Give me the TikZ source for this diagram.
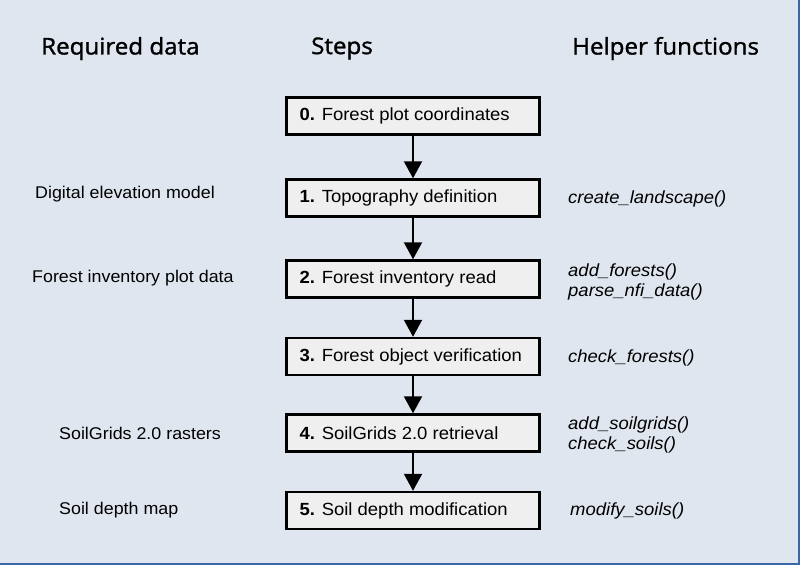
\documentclass[tikz,border=0pt]{standalone}
\usepackage{fontspec}
\setmainfont[FakeStretch=1.05]{Liberation Sans}
\newfontfamily\headfont[FakeStretch=1.05,FakeBold=1.3]{Open Sans}
\usetikzlibrary{arrows.meta}
\definecolor{bgcol}{HTML}{DFE6EF}
\definecolor{edgecol}{HTML}{3A68A6}
\definecolor{boxfill}{HTML}{EFEFEF}
\tikzset{
  stepbox/.style={draw=black, line width=2.4pt, fill=boxfill, minimum width=253pt,
    minimum height=37pt, inner sep=0pt, font=\fontsize{17.6}{20}\selectfont},
  header/.style={font=\headfont\fontsize{23}{26}\selectfont, anchor=west, inner sep=0pt},
  datalabel/.style={font=\fontsize{17}{20}\selectfont, anchor=west, inner sep=0pt},
  helper/.style={font=\itshape\fontsize{17.6}{20.5}\selectfont, anchor=west, inner sep=0pt, align=left},
  flow/.style={line width=2pt, -{Triangle[width=18pt,length=17pt]}}
}
\newcommand{\steptext}[2]{\raisebox{-1pt}{\makebox[227pt][l]{\textbf{#1} #2}}}
\begin{document}
\begin{tikzpicture}[x=1pt,y=-1pt]
  % background and frame
  \fill[bgcol] (0,0) rectangle (800,565);
  \useasboundingbox (0,0) rectangle (800,565);
  \draw[edgecol, line width=2pt] (799,0) -- (799,564) -- (0,564);

  % column headers
  \node[header] (hreq) at (41,48.5) {Required data};
  \node[header] (hsteps) at (311,48.5) {Steps};
  \node[header] (hhelp) at (572,48.5) {Helper functions};

  % workflow steps
  \node[stepbox] (s0) at (413,116) {\steptext{0.}{Forest plot coordinates}};
  \node[stepbox] (s1) at (413,198) {\steptext{1.}{Topography definition}};
  \node[stepbox] (s2) at (413,279) {\steptext{2.}{Forest inventory read}};
  \node[stepbox] (s3) at (413,356.5) {\steptext{3.}{Forest object verification}};
  \node[stepbox] (s4) at (413,433) {\steptext{4.}{SoilGrids 2.0 retrieval}};
  \node[stepbox] (s5) at (413,510.5) {\steptext{5.}{Soil depth modification}};

  \draw[flow] (s0) -- (s1);
  \draw[flow] (s1) -- (s2);
  \draw[flow] (s2) -- (s3);
  \draw[flow] (s3) -- (s4);
  \draw[flow] (s4) -- (s5);

  % required data
  \node[datalabel] (d1) at (35,194.5) {Digital elevation model};
  \node[datalabel] (d2) at (32,278.5) {Forest inventory plot data};
  \node[datalabel] (d4) at (59,433.5) {SoilGrids 2.0 rasters};
  \node[datalabel] (d5) at (59,510.5) {Soil depth map};

  % helper functions
  \node[helper] (f1) at (568,199) {create\_landscape()};
  \node[helper] (f2) at (568,282) {add\_forests()\\parse\_nfi\_data()};
  \node[helper] (f3) at (568,358) {check\_forests()};
  \node[helper] (f4) at (568,435) {add\_soilgrids()\\check\_soils()};
  \node[helper] (f5) at (570,511) {modify\_soils()};
\end{tikzpicture}
\end{document}
